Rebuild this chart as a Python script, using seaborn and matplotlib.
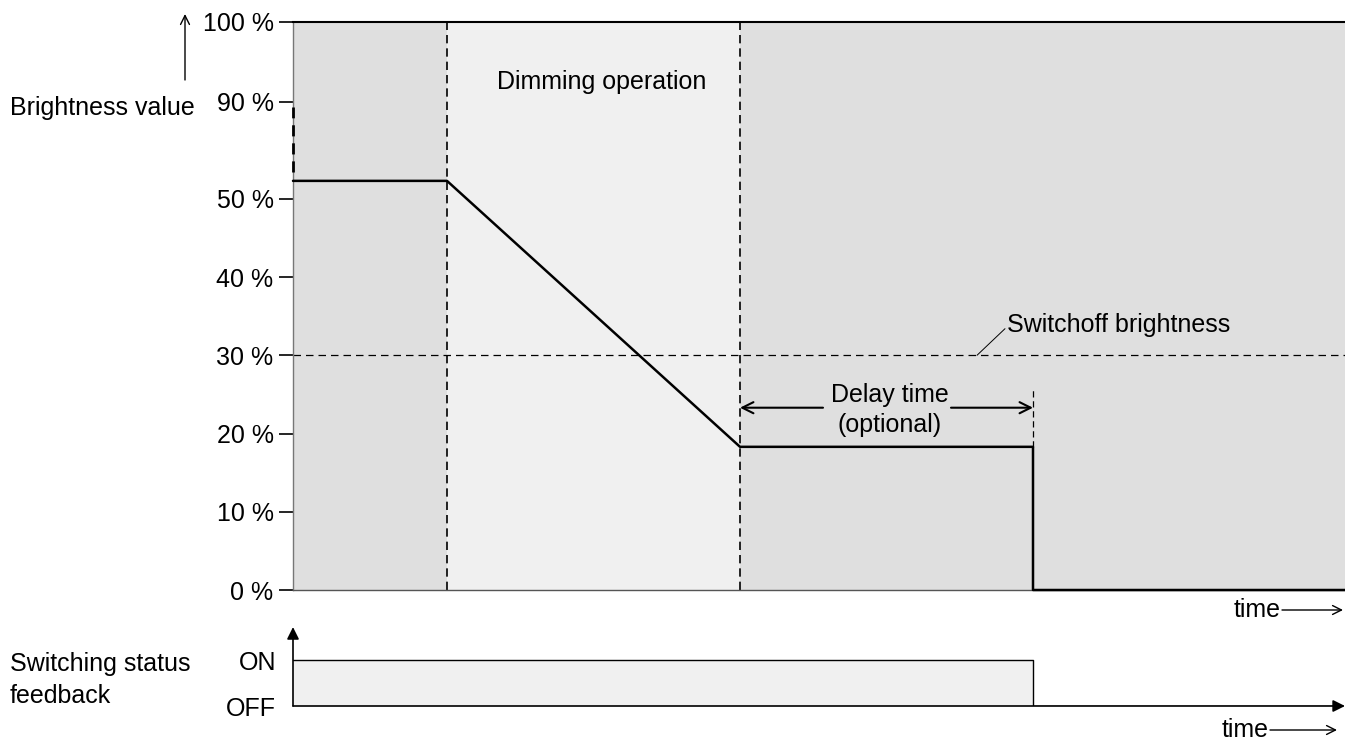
import numpy as np
import pandas as pd
import matplotlib
matplotlib.use("Agg")
import matplotlib.pyplot as plt
import seaborn as sns

# ---------------- data ----------------
tick_values = [0, 10, 20, 30, 40, 50, 90, 100]
tick_labels = ["0 %", "10 %", "20 %", "30 %", "40 %", "50 %", "90 %", "100 %"]
# broken (non-linear) brightness scale: value -> axis position
scale_values = [0, 50, 90, 100]
scale_positions = [0, 5, 6.24, 7.26]

time_pts = [0.0, 1.54, 4.47, 7.40, 7.40, 10.52]
brightness = [57.4, 57.4, 18.3, 18.3, 0.0, 0.0]
switchoff_brightness = 30
dim_start, dim_end, delay_end = 1.54, 4.47, 7.40
t_max = 10.52

status_time = [0.0, 7.40, 7.40, 10.45]
status_value = [1, 1, 0, 0]
status_ticks = [0, 1]
status_labels = ["OFF", "ON"]

# ---------------- style ----------------
sns.set_style("white")
plt.rcParams["font.family"] = ["Liberation Sans", "DejaVu Sans"]
plt.rcParams["font.size"] = 18
for k in ("text.color", "axes.labelcolor", "xtick.color", "ytick.color"):
    plt.rcParams[k] = "black"

DARK = "#dfdfdf"
LIGHT = "#f0f0f0"

fig = plt.figure(figsize=(13.45, 7.40), dpi=100)
W, H = 1345.0, 740.0

def fx(px):
    return px / W

def fy(py):
    return 1 - py / H

# ---------------- top panel ----------------
ax = fig.add_axes([fx(293), fy(590), fx(1345 - 293), (590 - 22) / H])

def fwd(v):
    return np.interp(v, scale_values, scale_positions)

def inv(p):
    return np.interp(p, scale_positions, scale_values)

ax.set_yscale("function", functions=(fwd, inv))
ax.set_xlim(0, t_max)
ax.set_ylim(0, 100)

ax.axvspan(0, dim_start, color=DARK, lw=0, zorder=0)
ax.axvspan(dim_start, dim_end, color=LIGHT, lw=0, zorder=0)
ax.axvspan(dim_end, t_max, color=DARK, lw=0, zorder=0)

# dashed guides
for xv in (dim_start, dim_end):
    ax.axvline(xv, color="black", lw=1.2, ls=(0, (5, 3)), zorder=2)
ax.axhline(switchoff_brightness, color="black", lw=0.9, ls=(0, (6, 4)), zorder=2)
ax.plot([delay_end, delay_end], [18.3, 25.5], color="black", lw=0.9,
        ls=(0, (5, 3)), zorder=2)
ax.plot([0.0, 0.0], [61.0, 88.0], color="black", lw=2.0, ls=(0, (4, 2.5)),
        zorder=3, clip_on=False)

df = pd.DataFrame({"time": time_pts, "brightness": brightness})
sns.lineplot(data=df, x="time", y="brightness", sort=False, estimator=None,
             color="black", lw=1.8, ax=ax, zorder=4, clip_on=False)

ax.set_yticks(tick_values)
ax.set_yticklabels(tick_labels)
ax.set_xticks([])
ax.set_xlabel("")
ax.set_ylabel("")
ax.tick_params(axis="y", length=10, width=1.2, color="black", pad=4,
               labelsize=18, left=True, labelcolor="black")
ax.spines["right"].set_visible(False)
ax.spines["top"].set_color("black")
ax.spines["top"].set_linewidth(1.5)
ax.spines["left"].set_color("#777777")
ax.spines["left"].set_linewidth(1.0)
ax.spines["bottom"].set_color("#555555")
ax.spines["bottom"].set_linewidth(1.0)

ax.text(3.09, 92.5, "Dimming operation", ha="center", va="center", fontsize=18)

# switchoff brightness label with leader line
ax.plot([6.84, 7.12], [30, 33.4], color="black", lw=0.7)
ax.text(7.14, 33.9, "Switchoff brightness", ha="left", va="center", fontsize=18)

# delay time arrows
ax.annotate("", xy=(dim_end, 23.3), xytext=(5.30, 23.3),
            arrowprops=dict(arrowstyle="->", lw=1.5, color="black",
                            shrinkA=0, shrinkB=0, mutation_scale=20))
ax.annotate("", xy=(delay_end, 23.3), xytext=(6.58, 23.3),
            arrowprops=dict(arrowstyle="->", lw=1.5, color="black",
                            shrinkA=0, shrinkB=0, mutation_scale=20))
ax.text(5.97, 24.9, "Delay time", ha="center", va="center", fontsize=18)
ax.text(5.97, 21.1, "(optional)", ha="center", va="center", fontsize=18)

# ---------------- bottom panel ----------------
ax2 = fig.add_axes([fx(293), fy(706), fx(1345 - 293), 78 / H])
ax2.set_xlim(0, t_max)
ax2.set_ylim(0, 1.7)
sdf = pd.DataFrame({"time": status_time, "status": status_value})
ax2.fill_between(status_time, status_value, 0, color=LIGHT, lw=0, zorder=1)
sns.lineplot(data=sdf, x="time", y="status", sort=False, estimator=None,
             color="black", lw=1.0, ax=ax2, zorder=2)
ax2.set_yticks(status_ticks)
ax2.set_yticklabels(status_labels)
ax2.set_xticks([])
ax2.set_xlabel("")
ax2.set_ylabel("")
ax2.tick_params(axis="y", length=0, pad=12, labelsize=18, labelcolor="black")
for s in ax2.spines.values():
    s.set_visible(False)
ax2.patch.set_alpha(0)
ax2.annotate("", xy=(0, 1.72), xytext=(0, 0),
             arrowprops=dict(arrowstyle="-|>", lw=1.2, color="black",
                             shrinkA=0, shrinkB=0, mutation_scale=18),
             annotation_clip=False)
ax2.annotate("", xy=(10.52, 0), xytext=(0, 0),
             arrowprops=dict(arrowstyle="-|>", lw=1.2, color="black",
                             shrinkA=0, shrinkB=0, mutation_scale=18),
             annotation_clip=False)

# ---------------- figure-level texts ----------------
fig.text(fx(10), fy(108), "Brightness value", ha="left", va="center", fontsize=18)
fig.text(fx(10), fy(680), "Switching status\nfeedback", ha="left", va="center",
         fontsize=18, linespacing=1.4)
fig.add_artist(matplotlib.patches.FancyArrowPatch(
    (fx(185), fy(80)), (fx(185), fy(14)), transform=fig.transFigure,
    arrowstyle="->", lw=1.0, color="black", mutation_scale=16,
    shrinkA=0, shrinkB=0))

for ty, tx, a0, a1 in ((610, 1257, 1282, 1343), (730, 1245, 1270, 1337)):
    fig.text(fx(tx), fy(ty), "time", ha="center", va="center", fontsize=18)
    fig.add_artist(matplotlib.patches.FancyArrowPatch(
        (fx(a0), fy(ty)), (fx(a1), fy(ty)), transform=fig.transFigure,
        arrowstyle="->", lw=1.0, color="black", mutation_scale=16,
        shrinkA=0, shrinkB=0))

fig.savefig("out.png", dpi=100)
